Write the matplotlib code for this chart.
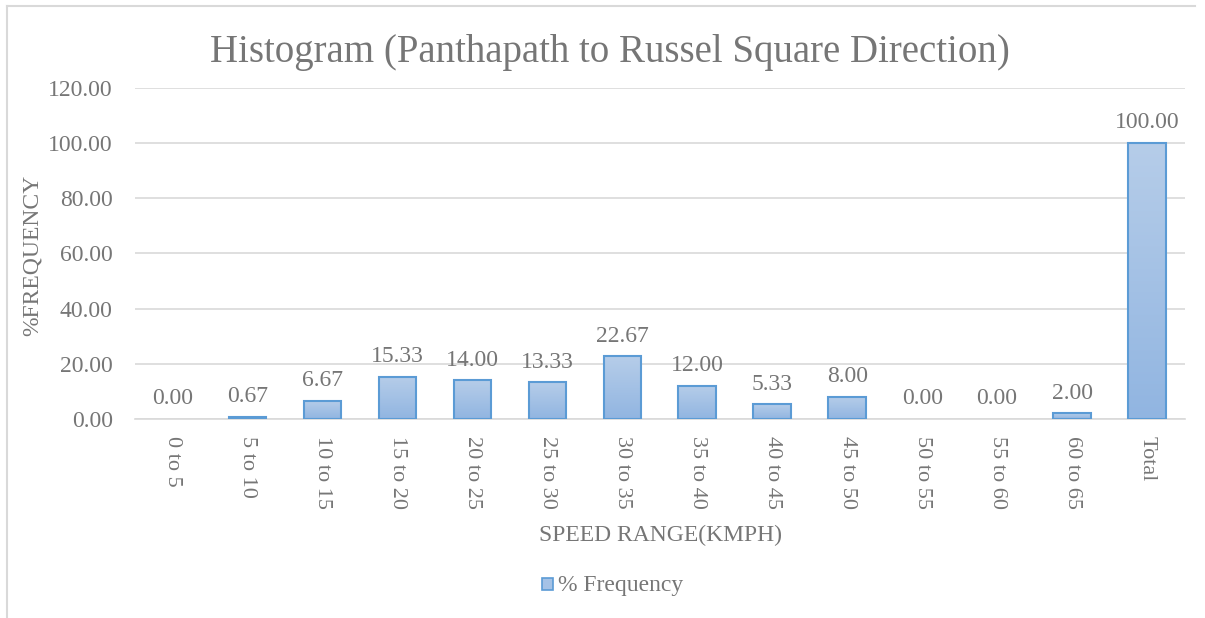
import numpy as np
import matplotlib.pyplot as plt
from matplotlib.patches import Rectangle
from matplotlib.lines import Line2D
from matplotlib.colors import LinearSegmentedColormap

# 数据
categories = ['0 to 5', '5 to 10', '10 to 15', '15 to 20', '20 to 25', '25 to 30', '30 to 35',
              '35 to 40', '40 to 45', '45 to 50', '50 to 55', '55 to 60', '60 to 65', 'Total']
freq = [0.00, 0.67, 6.67, 15.33, 14.00, 13.33, 22.67, 12.00, 5.33, 8.00, 0.00, 0.00, 2.00, 100.00]

plt.rcParams['font.family'] = ['Liberation Serif', 'DejaVu Serif']
grey = '#767676'

fig = plt.figure(figsize=(12.05, 6.18), dpi=100)
ax = fig.add_axes([0.112, 0.322, 0.871, 0.536])

x = np.arange(len(categories))
bars = ax.bar(x, freq, width=0.5, color='none', edgecolor='#5b9bd5', linewidth=1.5, zorder=3)

# 渐变填充
grad = np.linspace(0, 1, 256).reshape(-1, 1)
cmap = LinearSegmentedColormap.from_list('g', ['#91b5e1', '#b6cde9'])
for b in bars:
    if b.get_height() <= 0:
        b.set_linewidth(0)
        continue
    bx, by = b.get_x(), b.get_y()
    w, h = b.get_width(), b.get_height()
    im = ax.imshow(grad, cmap=cmap, aspect='auto', origin='lower',
                   extent=[bx, bx + w, by, by + h], zorder=2)
    im.set_clip_path(b)

for xi, v in zip(x, freq):
    ax.text(xi, v + 3.5, '%.2f' % v, ha='center', va='bottom', fontsize=17, color=grey)

ax.set_xlim(-0.5, len(categories) - 0.5)
ax.set_ylim(0, 120)
ax.set_yticks(np.arange(0, 121, 20))
ax.set_yticklabels(['%.2f' % t for t in np.arange(0, 121, 20)])
ax.set_xticks(x)
ax.set_xticklabels(categories, rotation=-90)
ax.tick_params(axis='x', length=0, labelsize=16, labelcolor=grey, pad=12)
ax.tick_params(axis='y', length=0, labelsize=17, labelcolor=grey, pad=16)
ax.yaxis.grid(True, color='#d9d9d9', linewidth=1.2, zorder=0)
ax.set_axisbelow(True)
for s in ['top', 'right', 'left']:
    ax.spines[s].set_visible(False)
ax.spines['bottom'].set_color('#d9d9d9')
ax.spines['bottom'].set_linewidth(1.2)

# 坐标轴标题
fig.text(0.027, 0.587, '%FREQUENCY', rotation=90, ha='center', va='center',
         fontsize=17, color=grey)
fig.text(0.548, 0.134, 'SPEED RANGE(KMPH)', ha='center', va='center',
         fontsize=17, color=grey)

fig.text(0.506, 0.915, 'Histogram (Panthapath to Russel Square Direction)',
         ha='center', va='center', fontsize=28, color=grey)

# 图例
fig.patches.append(Rectangle((0.4495, 0.046), 0.0095, 0.018, transform=fig.transFigure,
                             facecolor='#a5c2e6', edgecolor='#5b9bd5', linewidth=1.2))
fig.text(0.463, 0.053, '% Frequency', ha='left', va='center', fontsize=17, color=grey)

# 外框 (上, 左)
fig.add_artist(Line2D([0.006, 0.992], [0.99, 0.99], transform=fig.transFigure,
                      color='#d9d9d9', linewidth=1.5))
fig.add_artist(Line2D([0.006, 0.006], [0.0, 0.99], transform=fig.transFigure,
                      color='#d9d9d9', linewidth=1.5))

plt.savefig('out.png', dpi=100)
